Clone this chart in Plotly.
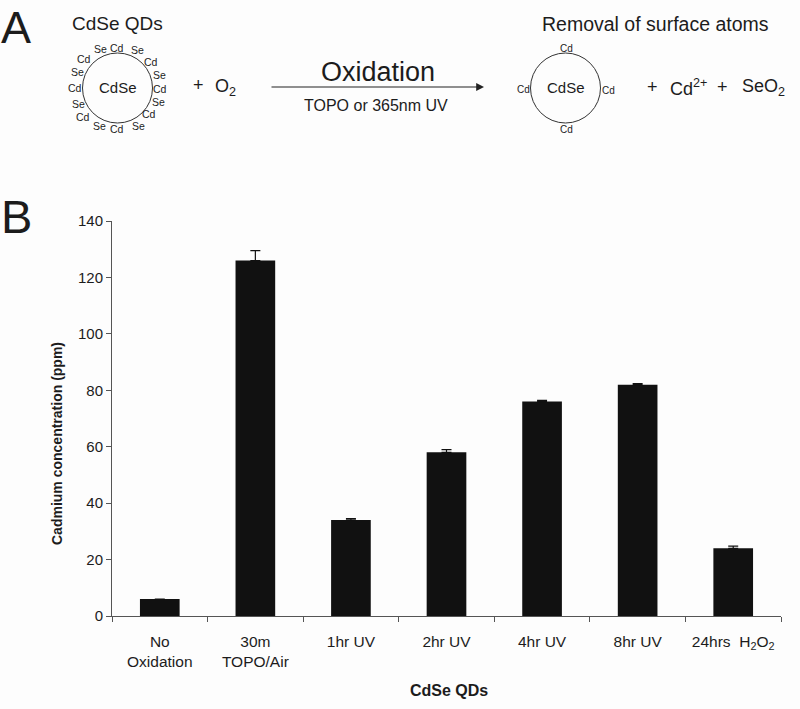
import plotly.graph_objects as go

W, H = 800, 709
categories = ["No<br>Oxidation", "30m<br>TOPO/Air", "1hr UV", "2hr UV", "4hr UV", "8hr UV",
              "24hrs  H<sub>2</sub>O<sub>2</sub>"]
cadmium_ppm = [6, 126, 34, 58, 76, 82, 24]
error_ppm = [0, 3.5, 0.5, 1, 0.4, 0.4, 0.8]
y_ticks = [0, 20, 40, 60, 80, 100, 120, 140]

shell_labels = ["Se", "Cd", "Se", "Cd", "Se", "Cd", "Se", "Cd", "Se", "Cd", "Se", "Cd", "Se", "Cd", "Se", "Cd"]
shell_x = [100, 117, 137, 151, 159, 160, 158, 149, 138, 117, 99, 83, 78, 75, 77, 84]
shell_y = [49, 48, 50, 62, 75, 89, 102, 114, 126, 129, 126, 117, 104, 88, 72, 59]
outer_labels = ["Cd", "Cd", "Cd", "Cd"]
outer_x = [566, 523, 608, 566]
outer_y = [48, 89, 90, 130]

INK = "#1c1c1c"
FONT = "Liberation Sans, Arial, sans-serif"


def px(x):
    return x / W


def py(y):
    return 1 - y / H


def note(text, x, y, size, **kw):
    return dict(text=text, x=px(x), y=py(y), xref="paper", yref="paper", showarrow=False,
                xanchor="center", yanchor="middle", font=dict(family=FONT, size=size, color=INK), **kw)


fig = go.Figure(go.Bar(
    x=categories, y=cadmium_ppm, marker=dict(color="#111111", line=dict(width=0)),
    width=0.415,
    error_y=dict(type="data", symmetric=False, array=error_ppm, arrayminus=[0] * len(error_ppm),
                 color="#111111", thickness=1.2, width=5),
))

notes = [
    note("A", 16, 27, 45), note("B", 16, 217, 47),
    note("CdSe QDs", 117, 24, 19), note("CdSe", 118, 87, 15),
    note("+", 198, 85, 18), note("O<sub>2</sub>", 226, 87, 18),
    note("Oxidation", 378, 72, 27), note("TOPO or 365nm UV", 376, 105, 16),
    note("Removal of surface atoms", 655, 24, 19.5), note("CdSe", 566, 87, 15),
    note("+", 652, 87, 18), note("Cd<sup>2+</sup>", 688, 87, 18), note("+", 722, 87, 18),
    note("SeO<sub>2</sub>", 763, 87, 18),
    note("<b>CdSe QDs</b>", 449, 690, 16),
    note("<b>Cadmium concentration (ppm)</b>", 57, 443, 14, textangle=-90),
]
notes += [note(t, x, y, 10.5) for t, x, y in zip(shell_labels, shell_x, shell_y)]
notes += [note(t, x, y, 10) for t, x, y in zip(outer_labels, outer_x, outer_y)]
notes.append(dict(x=px(484), y=py(87), ax=-214, ay=0, xref="paper", yref="paper",
                  axref="pixel", ayref="pixel", text="", showarrow=True, arrowhead=2, arrowsize=1.3,
                  arrowwidth=1.2, arrowcolor="#222222"))


def circle(cx, cy, r):
    return dict(type="circle", xref="paper", yref="paper", x0=px(cx - r), x1=px(cx + r),
                y0=py(cy + r), y1=py(cy - r), line=dict(color="#333333", width=1))


fig.update_layout(
    width=W, height=H, autosize=False, showlegend=False,
    paper_bgcolor="#fdfdfd", plot_bgcolor="#fdfdfd",
    margin=dict(l=0, r=0, t=0, b=0, pad=0, autoexpand=False),
    font=dict(family=FONT, color=INK),
    annotations=notes,
    shapes=[circle(117.5, 88, 35), circle(565.5, 88, 35)],
    xaxis=dict(domain=[px(112), px(781)], type="category", tickson="boundaries",
               showgrid=False, ticks="outside", ticklen=5, tickcolor="#555555", tickwidth=1,
               showline=True, linecolor="#555555", linewidth=1, zeroline=False, automargin=False,
               ticklabelstandoff=11, tickfont=dict(size=15.5, color=INK)),
    yaxis=dict(domain=[py(616), py(221)], range=[0, 140], tickmode="array", tickvals=y_ticks,
               showgrid=False, ticks="outside", ticklen=5, tickcolor="#555555", tickwidth=1,
               showline=True, linecolor="#555555", linewidth=1, zeroline=False, automargin=False,
               tickfont=dict(size=15, color=INK)),
    bargap=0.585,
)

fig.write_html("out.html", config={"displayModeBar": False},
               post_script="document.body.style.margin='0';")
